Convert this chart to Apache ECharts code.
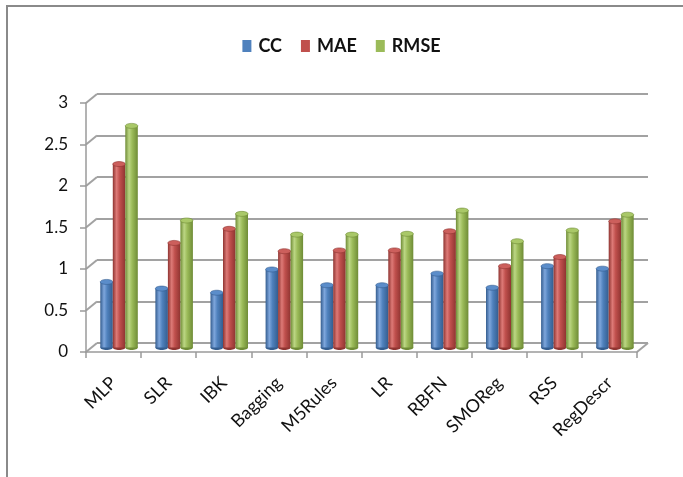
<!DOCTYPE html>
<html>
<head>
<meta charset="utf-8">
<script src="https://cdn.jsdelivr.net/npm/echarts@6/dist/echarts.min.js"></script>
<style>
  html, body { margin: 0; padding: 0; background: #fff; }
  #chart { width: 683px; height: 477px; }
</style>
</head>
<body>
<div id="chart"></div>
<script>
// Error metrics of the regression models
const models = ['MLP', 'SLR', 'IBK', 'Bagging', 'M5Rules', 'LR', 'RBFN', 'SMOReg', 'RSS', 'RegDescr'];
const ccValues   = [0.79, 0.71, 0.66, 0.94, 0.75, 0.75, 0.89, 0.72, 0.98, 0.95];
const maeValues  = [2.21, 1.26, 1.43, 1.16, 1.17, 1.17, 1.40, 0.98, 1.09, 1.52];
const rmseValues = [2.67, 1.53, 1.61, 1.36, 1.36, 1.37, 1.65, 1.28, 1.41, 1.60];
const yTicks = [0, 0.5, 1, 1.5, 2, 2.5, 3];

const seriesDefs = [
  { name: 'CC',   data: ccValues,   base: '#4F81BD', dark: '#345d8f', light: '#7ea6dc', cap: '#5b8dca' },
  { name: 'MAE',  data: maeValues,  base: '#C0504D', dark: '#8f3431', light: '#dd7a77', cap: '#cc5f5c' },
  { name: 'RMSE', data: rmseValues, base: '#9BBB59', dark: '#6f8c36', light: '#bcd684', cap: '#a9c868' }
];

const FONT = 'Lato, "Liberation Sans", sans-serif';
const BAR_W = 12.5;
const DEPTH_X = 11, DEPTH_Y = 9;   // perspective offset of the back wall

// back wall, bar plane (mid depth), front axes
const back  = { left: 97,  right: 35,  top: 94,  bottom: 134 };
const mid   = { left: back.left - DEPTH_X / 2, right: back.right + DEPTH_X / 2, top: back.top + DEPTH_Y / 2, bottom: back.bottom - DEPTH_Y / 2 };
const front = { left: back.left - DEPTH_X, right: back.right + DEPTH_X, top: back.top + DEPTH_Y, bottom: back.bottom - DEPTH_Y };

function cylinderFill(d) {
  return new echarts.graphic.LinearGradient(0, 0, 1, 0, [
    { offset: 0, color: d.dark },
    { offset: 0.3, color: d.light },
    { offset: 0.55, color: d.base },
    { offset: 1, color: d.dark }
  ]);
}

// one cylinder per data item: body, bottom rim and top cap
function cylinderRenderer(k, d) {
  const fill = cylinderFill(d);
  return function (params, api) {
    const idx = api.value(0);
    const v = api.value(1);
    const bottom = api.coord([idx, 0]);
    const top = api.coord([idx, v]);
    const cx = bottom[0] + (k - 1) * BAR_W;
    const rx = BAR_W / 2, ry = 2.5;
    return {
      type: 'group',
      children: [
        { type: 'ellipse', shape: { cx: cx, cy: bottom[1], rx: rx, ry: ry }, style: { fill: d.dark } },
        { type: 'rect', shape: { x: cx - rx, y: top[1], width: BAR_W, height: bottom[1] - top[1] }, style: { fill: fill } },
        { type: 'ellipse', shape: { cx: cx, cy: top[1], rx: rx, ry: ry }, style: { fill: d.cap, stroke: d.dark, lineWidth: 0.6 } }
      ]
    };
  };
}

const yBase = { type: 'value', min: 0, max: 3, interval: 0.5 };

const series = seriesDefs.map((d, k) => ({
  name: d.name, type: 'custom', xAxisIndex: 1, yAxisIndex: 1,
  data: d.data.map((v, i) => [i, v]),
  encode: { x: 0, y: 1 },
  itemStyle: { color: d.base },
  renderItem: cylinderRenderer(k, d)
}));

const chart = echarts.init(document.getElementById('chart'), null, { renderer: 'canvas' });
chart.setOption({
  backgroundColor: '#fff',
  animation: false,
  color: seriesDefs.map(d => d.base),
  legend: {
    top: 32, left: 'center',
    icon: 'rect',
    data: seriesDefs.map(d => ({ name: d.name, itemStyle: { color: d.base } })),
    itemWidth: 9, itemHeight: 12, itemGap: 19,
    textStyle: { fontFamily: FONT, fontWeight: 'bold', fontSize: 18, color: '#111', padding: [0, 0, 0, 2] }
  },
  grid: [
    Object.assign({}, back),
    Object.assign({}, mid),
    Object.assign({}, front)
  ],
  xAxis: [
    { type: 'category', gridIndex: 0, data: models, show: false },
    { type: 'category', gridIndex: 1, data: models, show: false },
    {
      type: 'category', gridIndex: 2, data: models,
      axisLine: { lineStyle: { color: '#9a9a9a', width: 1.5 } },
      axisTick: { show: true, length: 6, lineStyle: { color: '#9a9a9a', width: 1.5 } },
      axisLabel: { rotate: 45, margin: 28, fontFamily: FONT, fontSize: 18, color: '#111', interval: 0 }
    }
  ],
  yAxis: [
    Object.assign({ gridIndex: 0, axisLine: { show: false }, axisTick: { show: false }, axisLabel: { show: false },
      splitLine: { show: true, lineStyle: { color: '#a2a2a2', width: 2 } } }, yBase),
    Object.assign({ gridIndex: 1, show: false }, yBase),
    Object.assign({ gridIndex: 2,
      axisLine: { show: true, lineStyle: { color: '#9a9a9a', width: 1.5 } },
      axisTick: { show: true, length: 6, lineStyle: { color: '#9a9a9a', width: 1.5 } },
      axisLabel: { margin: 18, fontFamily: FONT, fontSize: 17, color: '#111' },
      splitLine: { show: false } }, yBase)
  ],
  series: series
});

// Side wall and floor edges joining the front axes to the back wall
const edges = [];
yTicks.forEach(v => {
  const f = chart.convertToPixel({ gridIndex: 2 }, [0, v]);
  const b = chart.convertToPixel({ gridIndex: 0 }, [0, v]);
  edges.push({ type: 'line', shape: { x1: front.left, y1: f[1], x2: back.left, y2: b[1] },
    style: { stroke: '#a2a2a2', lineWidth: 2 }, z: 0 });
});
const f0 = chart.convertToPixel({ gridIndex: 2 }, [0, 0]);
const b0 = chart.convertToPixel({ gridIndex: 0 }, [0, 0]);
const W = 683;
edges.push({ type: 'line', shape: { x1: W - front.right, y1: f0[1], x2: W - back.right, y2: b0[1] },
  style: { stroke: '#a2a2a2', lineWidth: 2 }, z: 0 });
// outer chart frame
edges.push({ type: 'rect', shape: { x: 7, y: 6, width: 720, height: 520 },
  style: { fill: 'none', stroke: '#8a8a8a', lineWidth: 2 }, z: 0 });

chart.setOption({ graphic: edges });
</script>
</body>
</html>
